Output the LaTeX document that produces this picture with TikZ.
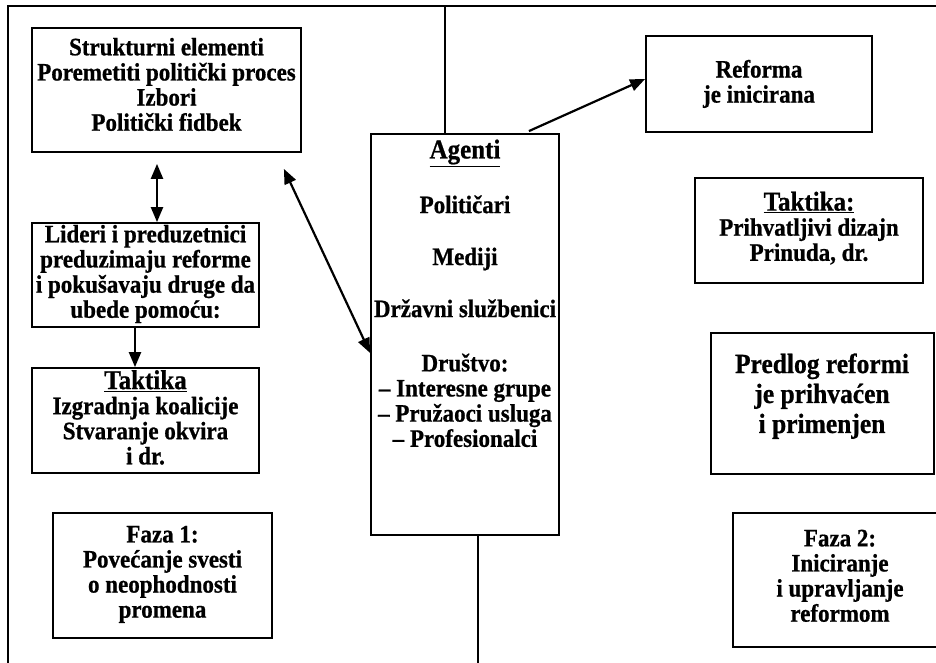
\documentclass[tikz,border=0pt]{standalone}
\usepackage{fontspec}
\setmainfont{Liberation Serif}[BoldFeatures={FakeBold=0.8}]
\usetikzlibrary{arrows.meta,calc}
\newcommand\vt[1]{\scalebox{1}[1.09]{\begin{tabular}{@{}c@{}}#1\end{tabular}}}
\begin{document}
\begin{tikzpicture}[x=1pt,y=-1pt,
  box/.style={draw, line width=1.8pt, rectangle, inner sep=0pt},
  txt/.style={align=center, font=\fontsize{23}{23}\selectfont\bfseries, inner sep=0pt},
  head/.style={align=center, font=\fontsize{25}{25}\selectfont\bfseries, inner sep=0pt},
  big/.style={align=center, font=\fontsize{25.5}{27.5}\selectfont\bfseries, inner sep=0pt},
  tip/.tip={Triangle[length=15pt,width=12pt]},
  arr/.style={line width=2.2pt, -tip},
  darr/.style={line width=2.2pt, tip-tip},
  frame/.style={line width=1.3pt}]
\useasboundingbox (0,0) rectangle (936,663);
\clip (0,0) rectangle (936,663);
% outer frame
\coordinate (fbl) at (8,663);
\coordinate (ftl) at (8,6);
\coordinate (ftr) at (936,6);
\draw[frame] (fbl) -- (ftl) -- (ftr);
% boxes
\node[box, minimum width=269pt, minimum height=124pt] (tl) at (166.5,90) {};
\node[box, minimum width=226pt, minimum height=96pt] (ref) at (759,84) {};
\node[box, minimum width=188pt, minimum height=401pt] (ag) at (465,334.5) {};
\node[box, minimum width=227pt, minimum height=104pt] (lid) at (145.5,275) {};
\node[box, minimum width=227pt, minimum height=105pt] (tak) at (145.5,420.5) {};
\node[box, minimum width=228pt, minimum height=105pt] (takr) at (809,230.5) {};
\node[box, minimum width=223pt, minimum height=141pt] (pred) at (822.5,403.5) {};
\node[box, minimum width=219pt, minimum height=125pt] (f1) at (162.5,575.5) {};
\node[box, minimum width=214pt, minimum height=134pt] (f2) at (840,580) {};
% texts
\node[txt] (tlt) at (166.5,88) {\vt{Strukturni elementi\\Poremetiti politički proces\\Izbori\\Politički fidbek}};
\node[txt] (reft) at (759,85) {\vt{Reforma\\je inicirana}};
\node[head] (ag0) at (465,153) {\vt{\underline{Agenti}}};
\node[txt] (ag1) at (465,208) {\vt{Političari}};
\node[txt] (ag2) at (465,260) {\vt{Mediji}};
\node[txt] (ag3) at (465,312) {\vt{Državni službenici}};
\node[txt] (ag4) at (465,404) {\vt{Društvo:\\– Interesne grupe\\– Pružaoci usluga\\– Profesionalci}};
\node[txt] (lidt) at (145.5,275) {\vt{Lideri i preduzetnici\\preduzimaju reforme\\i pokušavaju druge da\\ubede pomoću:}};
\node[txt] (takt) at (145.5,421) {\vt{{\fontsize{25}{25}\selectfont\underline{Taktika}}\\Izgradnja koalicije\\Stvaranje okvira\\i dr.}};
\node[txt] (taktr) at (809,230) {\vt{{\fontsize{25}{26}\selectfont\underline{Taktika:}}\\Prihvatljivi dizajn\\Prinuda, dr.}};
\node[big] (predt) at (822,397) {\vt{Predlog reformi\\je prihvaćen\\i primenjen}};
\node[txt] (f1t) at (162.5,575) {\vt{Faza 1:\\Povećanje svesti\\o neophodnosti\\promena}};
\node[txt] (f2t) at (840,579) {\vt{Faza 2:\\Iniciranje\\i upravljanje\\reformom}};
% central divider
\coordinate (topc) at (445,6);
\coordinate (botc) at (478,663);
\draw[frame] (topc) -- (topc |- ag.north);
\draw[frame] (botc |- ag.south) -- (botc);
% connectors
\draw[darr] ([xshift=-9.5pt,yshift=-11pt]tl.south) -- ([xshift=11.5pt]lid.north);
\draw[arr] ([xshift=-10.5pt]lid.south) -- ([xshift=-10.5pt]tak.north);
\draw[darr] ([xshift=-18pt,yshift=-16pt]tl.south east) -- ([yshift=-18.5pt]ag.west);
\draw[arr] ([xshift=-31pt,yshift=2pt]ag.north east) -- ([yshift=5pt]ref.west);
\end{tikzpicture}
\end{document}
